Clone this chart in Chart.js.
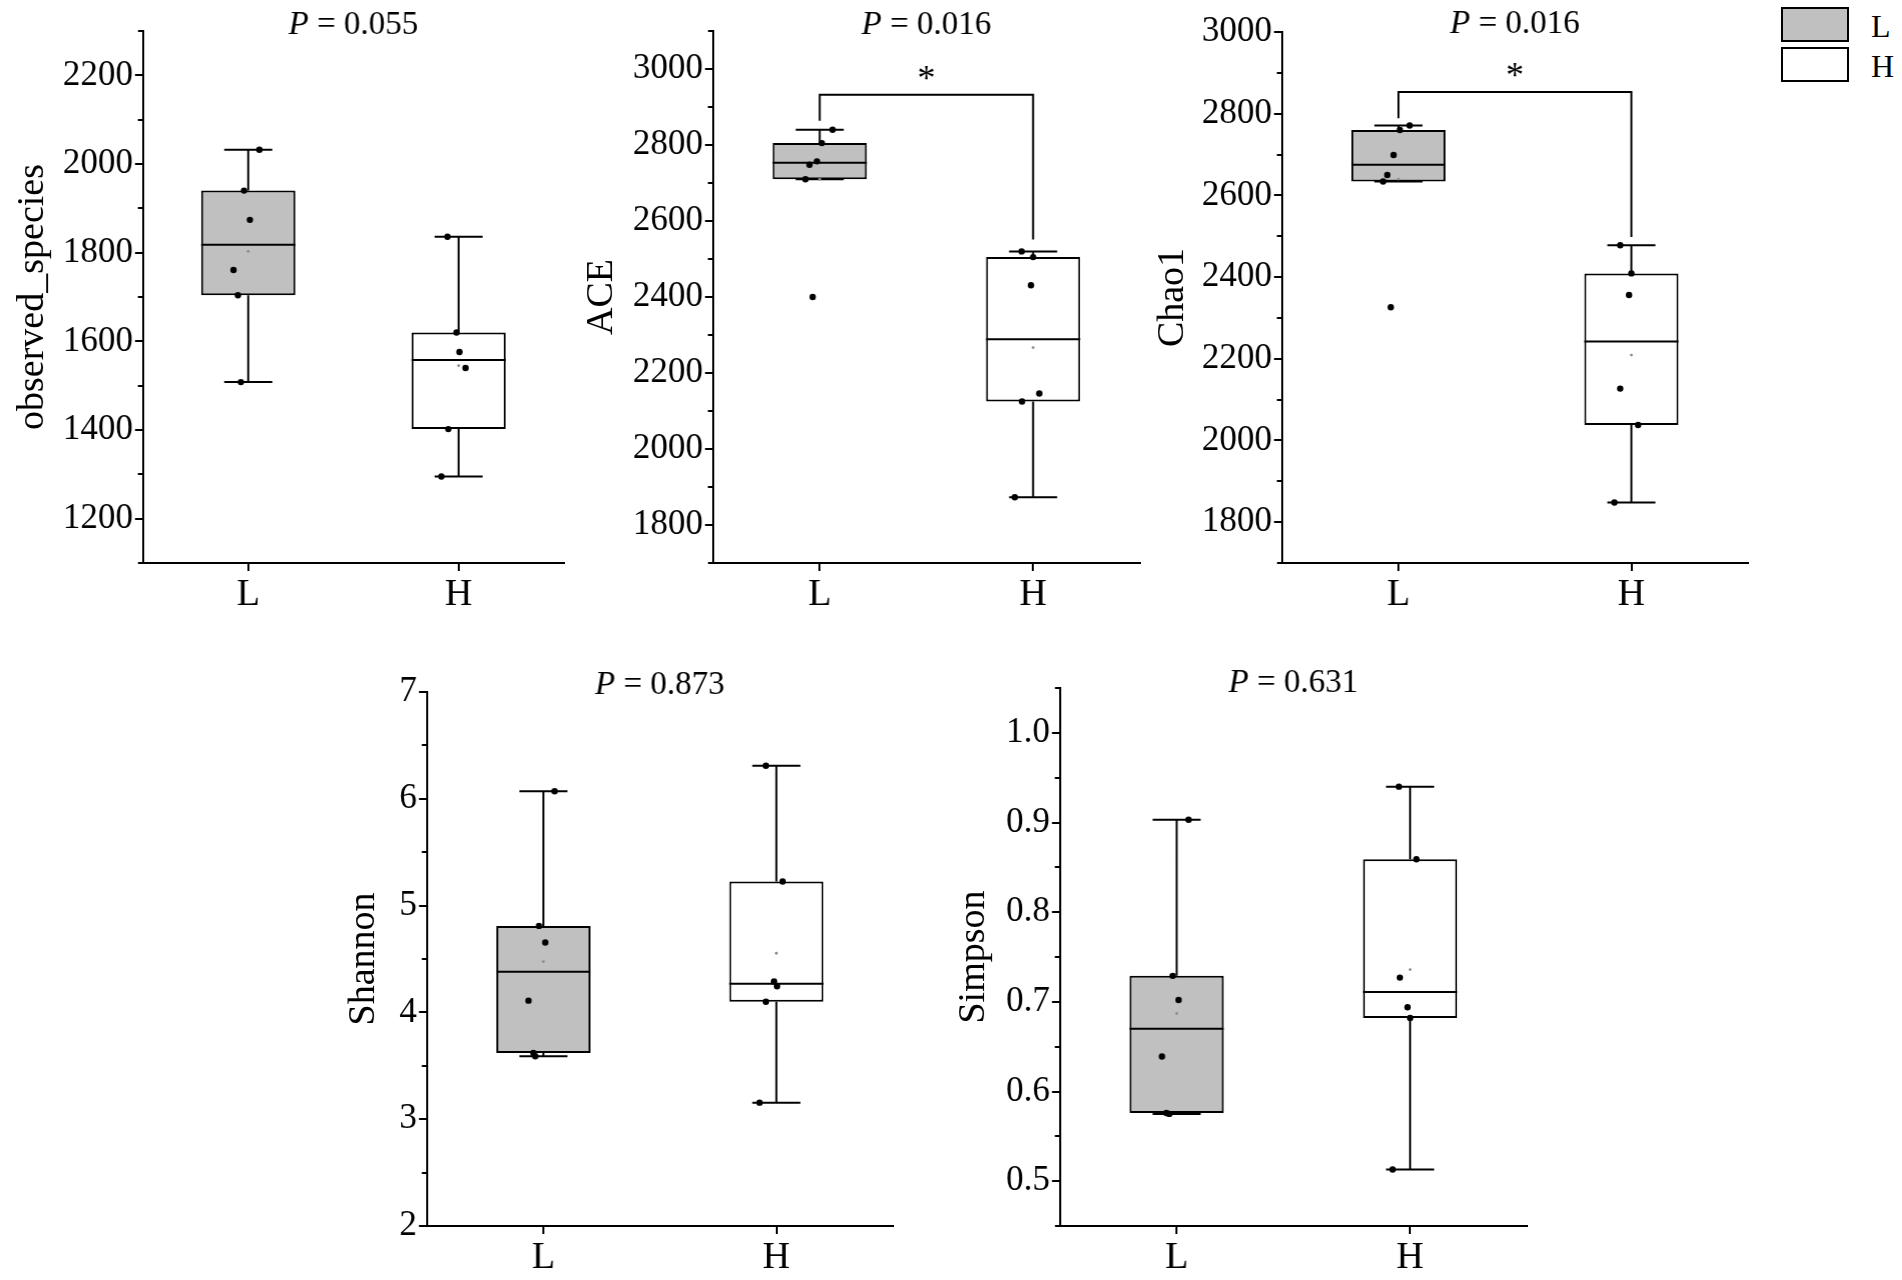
<!DOCTYPE html>
<html>
<head>
<meta charset="utf-8">
<script src="https://cdn.jsdelivr.net/npm/chart.js@4.4.1/dist/chart.umd.min.js"></script>
<style>
  body { margin: 0; background: #fff; width: 1902px; height: 1280px; position: relative; overflow: hidden; font-family: "Liberation Serif", "Times New Roman", serif; }
  .panel { position: absolute; }
  .legend-box { position: absolute; left: 1781px; width: 64px; height: 31px; border: 2px solid #000; }
  .legend-label { position: absolute; left: 1871px; font-size: 32px; line-height: 32px; color: #000; }
</style>
</head>
<body>
<div class="panel" id="p1"><canvas id="c1"></canvas></div>
<div class="panel" id="p2"><canvas id="c2"></canvas></div>
<div class="panel" id="p3"><canvas id="c3"></canvas></div>
<div class="panel" id="p4"><canvas id="c4"></canvas></div>
<div class="panel" id="p5"><canvas id="c5"></canvas></div>

<div class="legend-box" style="top:7px;background:#c0c0c0;"></div>
<div class="legend-label" style="top:10px;">L</div>
<div class="legend-box" style="top:47px;background:#fff;"></div>
<div class="legend-label" style="top:50px;">H</div>

<script>
const groups = ['L', 'H'];

// observed_species
const obsL = [2032, 1940, 1874, 1761, 1704, 1508];
const obsH = [1836, 1620, 1576, 1540, 1402, 1295];
const obsJitL = [0.053, -0.020, 0.008, -0.070, -0.049, -0.035];
const obsJitH = [-0.053, -0.010, 0.004, 0.033, -0.049, -0.082];
const obsBox = [[1508, 1704, 1818, 1940, 2032], [1295, 1402, 1558, 1620, 1836]]; // min, q1, median, q3, max
const obsMean = [1803, 1545];
const obsTicks = [1200, 1400, 1600, 1800, 2000, 2200];

// ACE
const aceL = [2840, 2805, 2757, 2748, 2710, 2400];
const aceH = [2520, 2505, 2431, 2146, 2125, 1873];
const aceJitL = [0.060, 0.010, -0.013, -0.048, -0.067, -0.033];
const aceJitH = [-0.054, 0.000, -0.010, 0.029, -0.052, -0.086];
const aceBox = [[2710, 2710, 2753, 2805, 2840], [1873, 2125, 2289, 2505, 2520]];
const aceMean = [2710, 2267];
const aceBracket = [2864, 2932, 2551];
const aceTicks = [1800, 2000, 2200, 2400, 2600, 2800, 3000];

// Chao1
const chaoL = [2771, 2760, 2699, 2650, 2634, 2326];
const chaoH = [2478, 2409, 2356, 2127, 2038, 1848];
const chaoJitL = [0.048, 0.006, -0.021, -0.048, -0.066, -0.033];
const chaoJitH = [-0.048, 0.000, -0.010, -0.048, 0.029, -0.073];
const chaoBox = [[2634, 2634, 2675, 2760, 2771], [1848, 2038, 2242, 2409, 2478]];
const chaoMean = [2640, 2209];
const chaoBracket = [2789, 2853, 2498];
const chaoTicks = [1800, 2000, 2200, 2400, 2600, 2800, 3000];

// Shannon
const shanL = [6.07, 4.81, 4.655, 4.11, 3.62, 3.59];
const shanH = [6.31, 5.225, 4.29, 4.245, 4.10, 3.155];
const shanJitL = [0.048, -0.019, 0.008, -0.064, -0.043, -0.035];
const shanJitH = [-0.045, 0.027, -0.010, 0.003, -0.045, -0.072];
const shanBox = [[3.59, 3.62, 4.38, 4.81, 6.07], [3.155, 4.10, 4.268, 5.225, 6.31]];
const shanMean = [4.476, 4.554];
const shanTicks = [2, 3, 4, 5, 6, 7];

// Simpson
const simpL = [0.903, 0.729, 0.702, 0.639, 0.576, 0.575];
const simpH = [0.940, 0.859, 0.727, 0.694, 0.682, 0.513];
const simpJitL = [0.051, -0.017, 0.008, -0.063, -0.044, -0.032];
const simpJitH = [-0.048, 0.027, -0.044, -0.011, 0.000, -0.075];
const simpBox = [[0.575, 0.576, 0.670, 0.729, 0.903], [0.513, 0.682, 0.711, 0.859, 0.940]];
const simpMean = [0.687, 0.736];
const simpTicks = [0.5, 0.6, 0.7, 0.8, 0.9, 1.0];

Chart.defaults.font.family = '"Liberation Serif", "Times New Roman", serif';
Chart.defaults.color = '#000';
Chart.defaults.animation = false;

const TITLE_SIZE = 38;
const TITLE_HALF = TITLE_SIZE * 1.2 / 2;

// title, minor ticks and the significance star
const panelDecor = {
  id: 'panelDecor',
  afterDraw(chart, args, opts) {
    const { ctx, chartArea, scales: { x, y } } = chart;
    ctx.save();
    ctx.strokeStyle = '#000';
    ctx.lineWidth = 2;
    const step = opts.ticks[1] - opts.ticks[0];
    opts.ticks.forEach(v => {
      [v - step / 2, v + step / 2].forEach(m => {
        if (m < y.min - 1e-9 || m > y.max + 1e-9) return;
        const py = Math.round(y.getPixelForValue(m));
        ctx.beginPath();
        ctx.moveTo(chartArea.left, py);
        ctx.lineTo(chartArea.left - 5, py);
        ctx.stroke();
      });
    });

    ctx.fillStyle = '#000';
    ctx.textBaseline = 'middle';
    ctx.textAlign = 'left';
    const italic = 'italic 33px "Liberation Serif"';
    const normal = '33px "Liberation Serif"';
    const rest = ' = ' + opts.p;
    ctx.font = italic;
    const w1 = ctx.measureText('P').width;
    ctx.font = normal;
    const w2 = ctx.measureText(rest).width;
    const cx = (chartArea.left + chartArea.right) / 2;
    const ty = chartArea.top + opts.titleDy;
    ctx.font = italic;
    ctx.fillText('P', cx - (w1 + w2) / 2, ty);
    ctx.font = normal;
    ctx.fillText(rest, cx - (w1 + w2) / 2 + w1, ty);

    if (opts.bracket) {
      ctx.font = '36px "Liberation Serif"';
      ctx.textAlign = 'center';
      ctx.textBaseline = 'alphabetic';
      ctx.fillText('*', x.getPixelForValue(0.5), y.getPixelForValue(opts.bracket[1]) - 22 + 17);
    }
    ctx.restore();
  }
};

function line(data, order) {
  return { type: 'line', data, borderColor: '#000', borderWidth: 2, pointRadius: 0, fill: false, tension: 0, spanGaps: false, order };
}

function buildDatasets(box, mean, ptsL, ptsH, jitL, jitH, half, cap, bracket) {
  const gap = i => ({ x: i, y: null });
  const whisk = [], caps = [], meds = [];
  box.forEach((b, i) => {
    const [lo, q1, med, q3, hi] = b;
    whisk.push({ x: i, y: q3 }, { x: i, y: hi }, gap(i), { x: i, y: q1 }, { x: i, y: lo }, gap(i));
    caps.push({ x: i - cap, y: hi }, { x: i + cap, y: hi }, gap(i), { x: i - cap, y: lo }, { x: i + cap, y: lo }, gap(i));
    meds.push({ x: i - half, y: med }, { x: i + half, y: med }, gap(i));
  });
  const pts = ptsL.map((v, k) => ({ x: jitL[k], y: v }))
    .concat(ptsH.map((v, k) => ({ x: 1 + jitH[k], y: v })));
  const ds = [
    {
      type: 'bar',
      data: box.map((b, i) => ({ x: i, y: [b[1], b[3]] })),
      backgroundColor: ['#c0c0c0', '#ffffff'],
      borderColor: '#000',
      borderWidth: 2,
      borderSkipped: false,
      barPercentage: half * 2,
      categoryPercentage: 1,
      order: 3
    },
    line(whisk, 4),
    line(caps, 4),
    line(meds, 2),
    { type: 'scatter', data: pts, pointRadius: 3.2, backgroundColor: '#000', borderWidth: 0, order: 1 },
    { type: 'scatter', data: mean.map((v, i) => ({ x: i, y: v })), pointRadius: 1.4, backgroundColor: '#8a8a8a', borderWidth: 0, order: 0 }
  ];
  if (bracket) {
    ds.push(line([{ x: 0, y: bracket[0] }, { x: 0, y: bracket[1] }, { x: 1, y: bracket[1] }, { x: 1, y: bracket[2] }], 5));
  }
  return ds;
}

function makePanel(p) {
  const yW = p.titleGap + TITLE_HALF;
  const xH = p.xH;
  const div = document.getElementById(p.div);
  div.style.left = (p.area.l - yW) + 'px';
  div.style.top = (p.area.t - p.padTop) + 'px';
  div.style.width = (yW + p.area.r - p.area.l + 12) + 'px';
  div.style.height = (p.padTop + p.area.b - p.area.t + xH) + 'px';

  const pxPerUnit = (p.area.r - p.area.l) / 2;
  const half = 47 / pxPerUnit;
  const cap = 24 / pxPerUnit;

  return new Chart(document.getElementById(p.canvas), {
    type: 'scatter',
    data: { datasets: buildDatasets(p.box, p.mean, p.ptsL, p.ptsH, p.jitL, p.jitH, half, cap, p.bracket) },
    options: {
      responsive: true,
      maintainAspectRatio: false,
      events: [],
      layout: { padding: { top: p.padTop, right: 12, left: 0, bottom: 0 } },
      scales: {
        x: {
          type: 'linear',
          min: -0.5,
          max: 1.5,
          offset: false,
          afterBuildTicks: s => { s.ticks = [{ value: 0 }, { value: 1 }]; },
          afterFit: s => { s.height = xH; },
          ticks: { callback: v => groups[v], font: { size: 38 }, padding: 1, autoSkip: false, maxRotation: 0 },
          grid: { drawOnChartArea: false, drawTicks: true, tickLength: 8, color: '#000', lineWidth: 2, offset: false },
          border: { display: true, color: '#000', width: 2 }
        },
        y: {
          type: 'linear',
          min: p.min,
          max: p.max,
          afterBuildTicks: s => { s.ticks = p.ticks.map(v => ({ value: v })); },
          afterFit: s => { s.width = yW; },
          ticks: { callback: p.fmt, font: { size: 35 }, padding: 2, autoSkip: false },
          grid: { drawOnChartArea: false, drawTicks: true, tickLength: 8, color: '#000', lineWidth: 2 },
          border: { display: true, color: '#000', width: 2 },
          title: { display: true, text: p.yTitle, font: { size: TITLE_SIZE }, padding: 0 }
        }
      },
      plugins: {
        legend: { display: false },
        tooltip: { enabled: false },
        panelDecor: { p: p.pval, ticks: p.ticks, titleDy: p.titleDy, bracket: p.bracket }
      }
    },
    plugins: [panelDecor]
  });
}

const intLabel = v => String(v);
const decLabel = v => v.toFixed(1);

makePanel({ div: 'p1', canvas: 'c1', area: { l: 143, r: 563, t: 31, b: 563 }, padTop: 31, xH: 70, titleGap: 110,
  yTitle: 'observed_species', min: 1100, max: 2300, ticks: obsTicks, fmt: intLabel, pval: '0.055', titleDy: -6,
  box: obsBox, mean: obsMean, ptsL: obsL, ptsH: obsH, jitL: obsJitL, jitH: obsJitH, bracket: null });

makePanel({ div: 'p2', canvas: 'c2', area: { l: 713, r: 1139, t: 31, b: 563 }, padTop: 31, xH: 70, titleGap: 111,
  yTitle: 'ACE', min: 1700, max: 3100, ticks: aceTicks, fmt: intLabel, pval: '0.016', titleDy: -6,
  box: aceBox, mean: aceMean, ptsL: aceL, ptsH: aceH, jitL: aceJitL, jitH: aceJitH, bracket: aceBracket });

makePanel({ div: 'p3', canvas: 'c3', area: { l: 1282, r: 1747, t: 32, b: 563 }, padTop: 32, xH: 70, titleGap: 109,
  yTitle: 'Chao1', min: 1700, max: 3000, ticks: chaoTicks, fmt: intLabel, pval: '0.016', titleDy: -8,
  box: chaoBox, mean: chaoMean, ptsL: chaoL, ptsH: chaoH, jitL: chaoJitL, jitH: chaoJitH, bracket: chaoBracket });

makePanel({ div: 'p4', canvas: 'c4', area: { l: 427, r: 892, t: 692, b: 1226 }, padTop: 60, xH: 54, titleGap: 63,
  yTitle: 'Shannon', min: 2, max: 7, ticks: shanTicks, fmt: intLabel, pval: '0.873', titleDy: -7,
  box: shanBox, mean: shanMean, ptsL: shanL, ptsH: shanH, jitL: shanJitL, jitH: shanJitH, bracket: null });

makePanel({ div: 'p5', canvas: 'c5', area: { l: 1060, r: 1526, t: 688, b: 1226 }, padTop: 60, xH: 54, titleGap: 86,
  yTitle: 'Simpson', min: 0.45, max: 1.05, ticks: simpTicks, fmt: decLabel, pval: '0.631', titleDy: -5,
  box: simpBox, mean: simpMean, ptsL: simpL, ptsH: simpH, jitL: simpJitL, jitH: simpJitH, bracket: null });
</script>
</body>
</html>
